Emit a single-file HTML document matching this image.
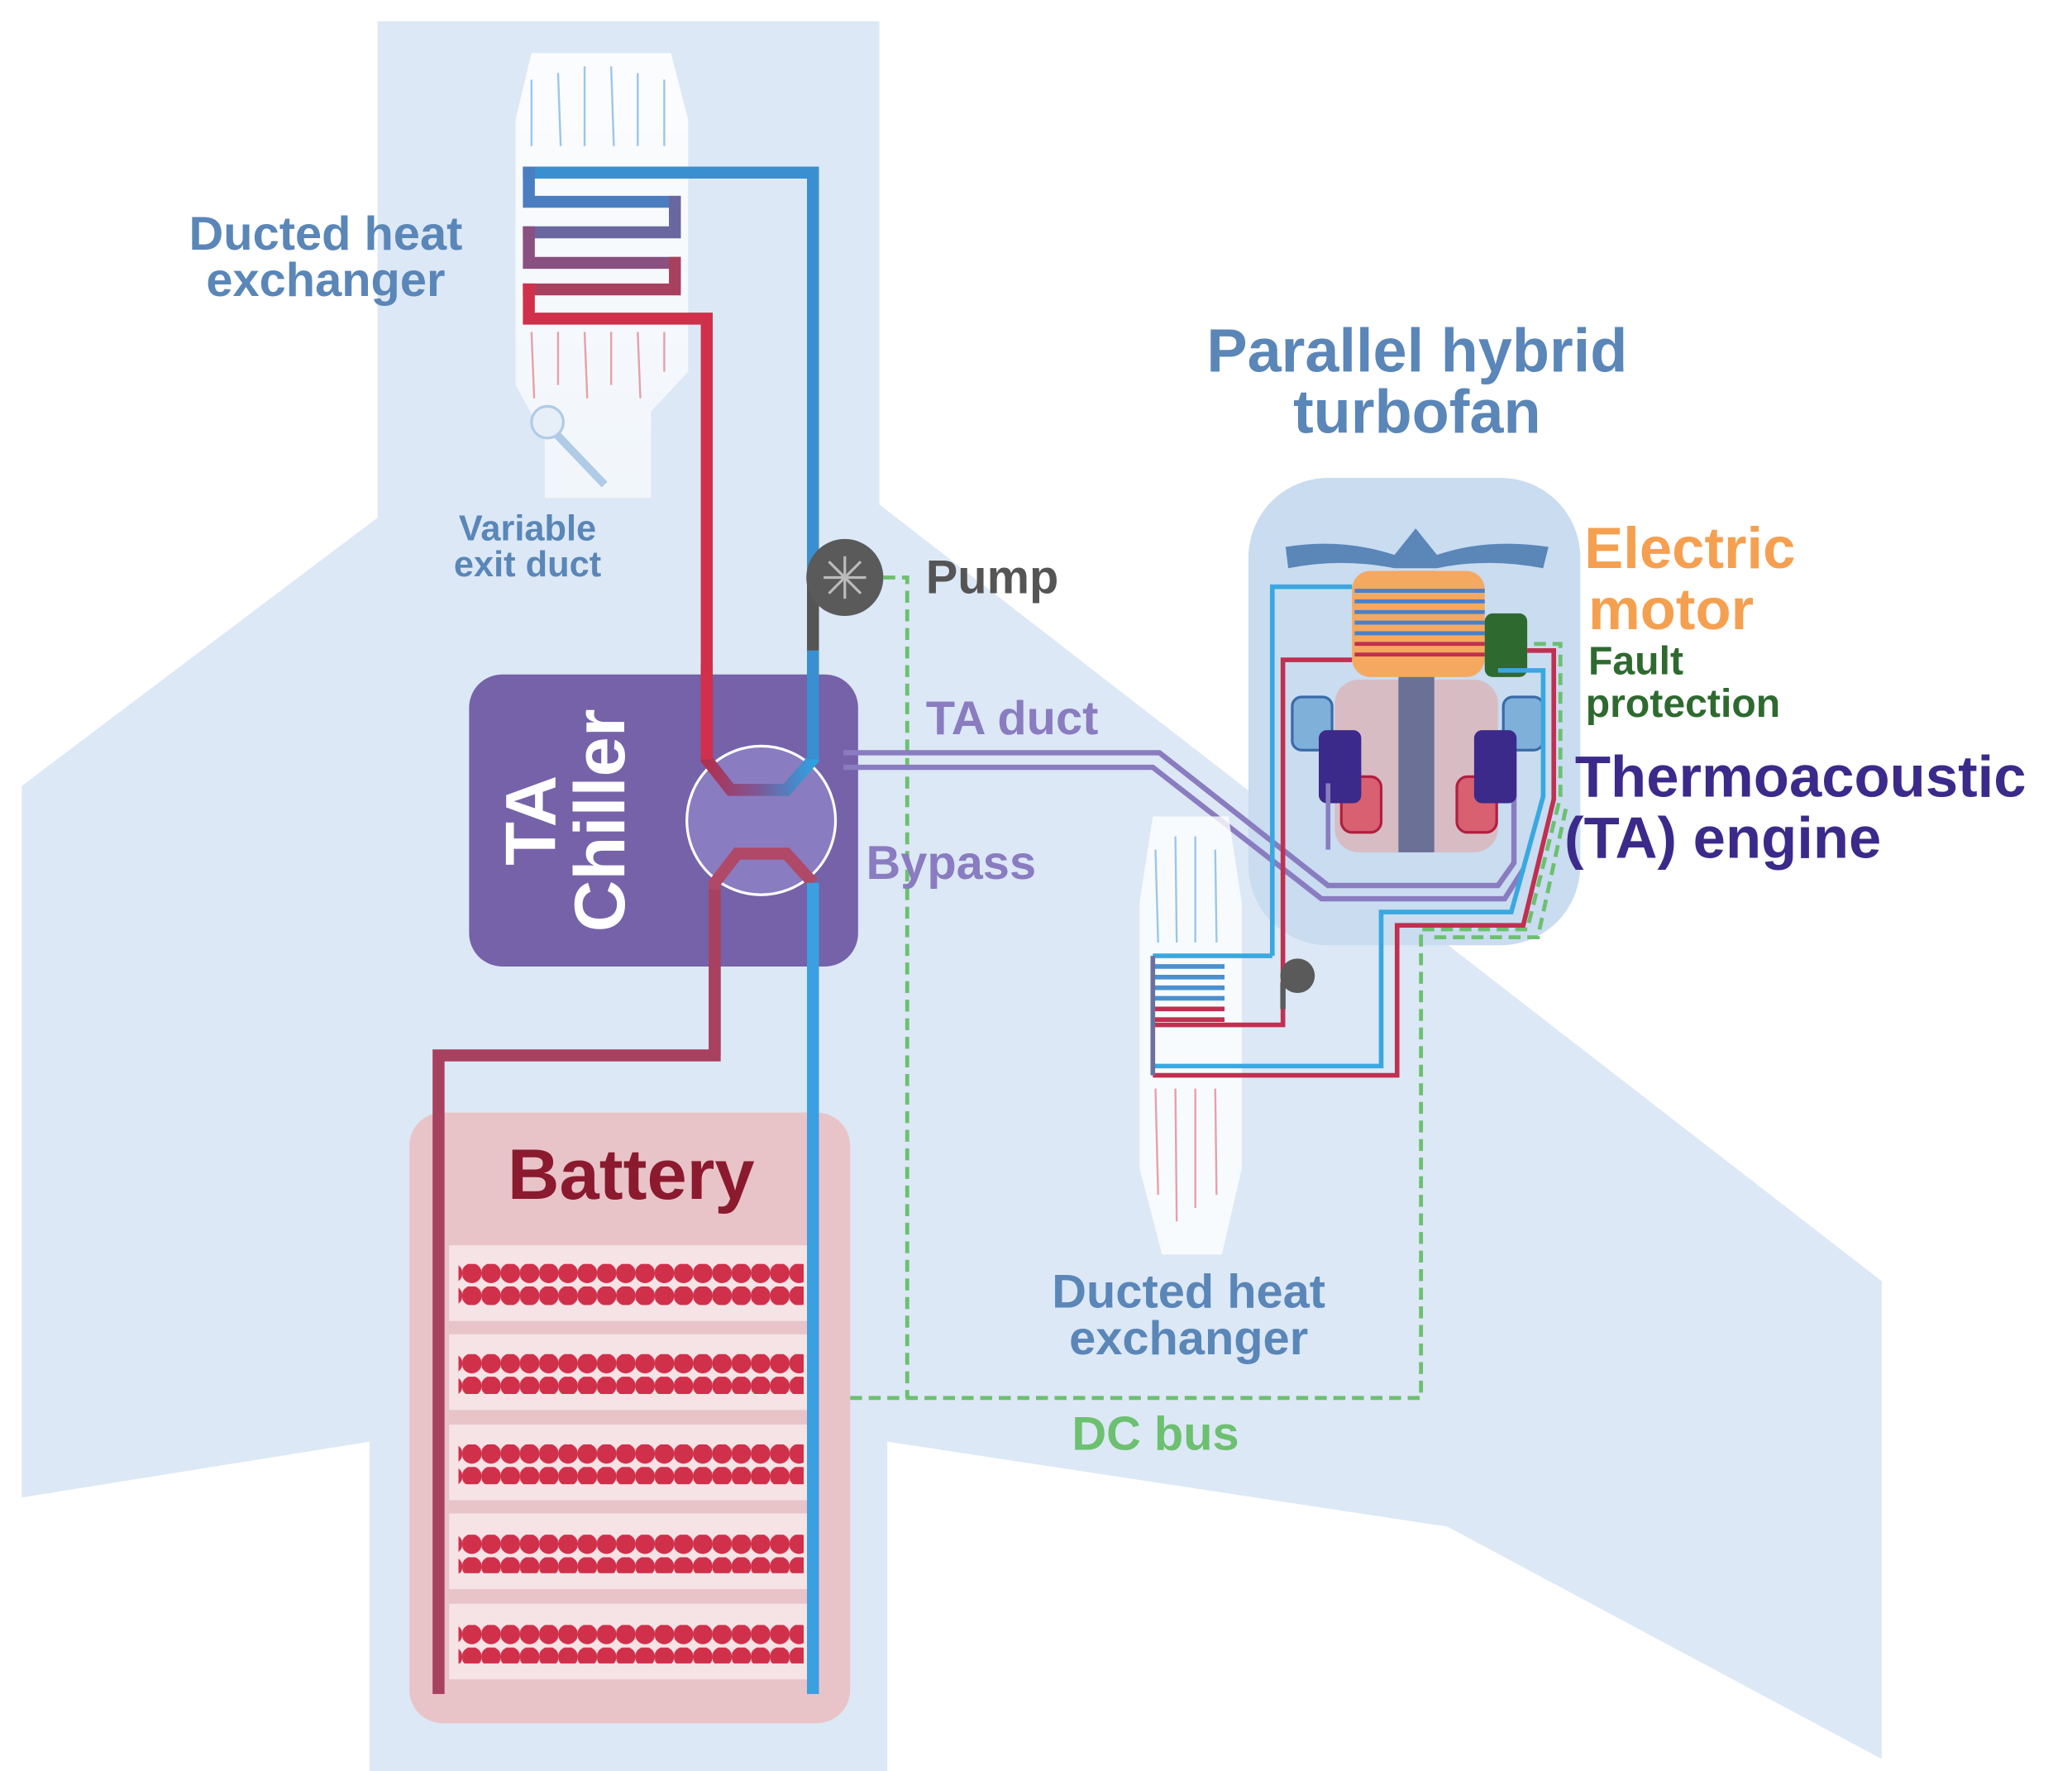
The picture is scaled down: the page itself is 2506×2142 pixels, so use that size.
<!DOCTYPE html>
<html><head><meta charset="utf-8"><style>
html,body{margin:0;padding:0;background:#fff}
svg{display:block}
text{font-family:"Liberation Sans",sans-serif;font-weight:bold}
</style></head><body>
<svg width="2506" height="2142" viewBox="0 0 1560 1334" xmlns="http://www.w3.org/2000/svg">
<defs>
<linearGradient id="rb" x1="0" x2="1"><stop offset="0" stop-color="#b03050"/><stop offset="0.5" stop-color="#7a5a9a"/><stop offset="1" stop-color="#2fa0e0"/></linearGradient>
<linearGradient id="duct" x1="0" y1="0" x2="0" y2="1"><stop offset="0" stop-color="#ffffff" stop-opacity="0.9"/><stop offset="1" stop-color="#ffffff" stop-opacity="0.6"/></linearGradient>
<pattern id="dots" width="14.5" height="17" patternUnits="userSpaceOnUse"><circle cx="7" cy="7" r="7.5" fill="#d0304a"/></pattern>
</defs>
<g fill="#dce8f5">
<rect x="284" y="16" width="378" height="1318"/>
<polygon points="284,390 16,592 16,1128 284,1085"/>
<polygon points="662,380 1417,965 1417,1325 1090,1150 662,1085"/>
<rect x="278" y="1080" width="390" height="254"/>
</g>
<rect x="940" y="360" width="250" height="352" rx="60" fill="#c9dcf0"/>
<polygon points="400,40 505,40 518,90 518,280 490,310 490,375 410,375 410,330 388,290 388,90" fill="url(#duct)"/>
<g stroke="#9cc6ea" stroke-width="1.5">
<line x1="400" y1="60" x2="400" y2="110"/><line x1="420" y1="55" x2="422" y2="110"/><line x1="440" y1="50" x2="440" y2="110"/><line x1="460" y1="50" x2="462" y2="110"/><line x1="480" y1="55" x2="480" y2="110"/><line x1="500" y1="60" x2="500" y2="110"/>
</g>
<g stroke="#e8a0a8" stroke-width="1.5">
<line x1="400" y1="250" x2="402" y2="300"/><line x1="420" y1="250" x2="420" y2="290"/><line x1="440" y1="250" x2="442" y2="300"/><line x1="460" y1="250" x2="460" y2="290"/><line x1="480" y1="250" x2="482" y2="300"/><line x1="500" y1="250" x2="500" y2="280"/>
</g>
<line x1="412" y1="320" x2="455" y2="365" stroke="#b0cbe6" stroke-width="6"/>
<circle cx="412" cy="318" r="12" fill="#e6eef8" stroke="#b0cbe6" stroke-width="2"/>
<!-- HX serpentine -->
<g fill="none" stroke-width="9" stroke-linecap="square">
<path d="M612,490 V130 H398" stroke="#3a8fd0"/>
<path d="M398,130 V152 H508" stroke="#4a7ec0"/>
<path d="M508,152 V175 H398" stroke="#6a66a0"/>
<path d="M398,175 V198 H508" stroke="#8a5080"/>
<path d="M508,198 V218 H398" stroke="#a84060"/>
<path d="M398,218 V240 H532 V565" stroke="#d0304a"/>
</g>
<path d="M612,440 V495" stroke="#555" stroke-width="9"/>
<circle cx="636" cy="435" r="29" fill="#5a5a5a"/>
<g stroke="#bbb" stroke-width="2"><line x1="620" y1="435" x2="652" y2="435"/><line x1="636" y1="419" x2="636" y2="451"/><line x1="624" y1="423" x2="648" y2="447"/><line x1="648" y1="423" x2="624" y2="447"/></g>
<g fill="none" stroke="#6cc070" stroke-width="3" stroke-dasharray="9,5">
<path d="M665,435 H683 V1053"/>
<path d="M640,1053 H1070 V700 H1150 L1175,600 V485 H1150"/>
<path d="M1080,706 H1158 L1180,605"/>
</g>
<rect x="353" y="508" width="293" height="220" rx="25" fill="#7562a8"/>
<text transform="translate(418,618) rotate(-90)" text-anchor="middle" fill="#fff" font-size="54">TA</text>
<text transform="translate(470,618) rotate(-90)" text-anchor="middle" fill="#fff" font-size="54">Chiller</text>
<circle cx="573" cy="618" r="56" fill="#8a7cc0" stroke="#fff" stroke-width="2"/>
<path d="M532,500 V572 L550,595 H592 L612,572 V490" fill="none" stroke="url(#rb)" stroke-width="9"/>
<path d="M532,500 V572" stroke="#d0304a" stroke-width="9"/>
<path d="M612,490 V572" stroke="#3a8fd0" stroke-width="9"/>
<path d="M538,795 V665 L555,643 H592 L612,665" fill="none" stroke="#b04868" stroke-width="9"/>
<g fill="none" stroke="#8a7cc0" stroke-width="4">
<path d="M635,567 H873 L1000,667 H1128 L1140,650 V540"/>
<path d="M635,578 H868 L995,677 H1133 L1147,655"/>
</g>
<rect x="308" y="838" width="332" height="460" rx="25" fill="#e8c4c9"/>
<text x="475" y="903" text-anchor="middle" fill="#8b1a2e" font-size="54">Battery</text>
<g>
<rect x="338" y="938" width="270" height="57" fill="#f5e3e6"/><rect x="345" y="952" width="260" height="31" fill="url(#dots)"/>
<rect x="338" y="1005" width="270" height="57" fill="#f5e3e6"/><rect x="345" y="1019" width="260" height="31" fill="url(#dots)"/>
<rect x="338" y="1073" width="270" height="57" fill="#f5e3e6"/><rect x="345" y="1087" width="260" height="31" fill="url(#dots)"/>
<rect x="338" y="1140" width="270" height="57" fill="#f5e3e6"/><rect x="345" y="1154" width="260" height="31" fill="url(#dots)"/>
<rect x="338" y="1208" width="270" height="57" fill="#f5e3e6"/><rect x="345" y="1222" width="260" height="31" fill="url(#dots)"/>
</g>
<g stroke="url(#rb)" stroke-width="9">
<line x1="330" y1="933" x2="615" y2="933"/><line x1="330" y1="1000" x2="615" y2="1000"/><line x1="330" y1="1068" x2="615" y2="1068"/><line x1="330" y1="1135" x2="615" y2="1135"/><line x1="330" y1="1203" x2="615" y2="1203"/><line x1="330" y1="1272" x2="615" y2="1272"/>
</g>
<path d="M538,670 V795 H330 V1276" fill="none" stroke="#a84060" stroke-width="9"/>
<path d="M612,665 V1276" stroke="#3aa0e0" stroke-width="9"/>
<path d="M968,412 Q1010,405 1050,418 L1066,398 L1082,418 Q1120,405 1166,412 L1162,428 Q1120,420 1082,428 L1050,428 Q1010,420 970,428 Z" fill="#5a86b8"/>
<rect x="1005" y="512" width="123" height="130" rx="18" fill="#d8bcc4"/>
<rect x="1053" y="430" width="27" height="212" fill="#6b7096"/>
<rect x="1018" y="430" width="100" height="80" rx="14" fill="#f5a860"/>
<g stroke="#4a80c8" stroke-width="3"><line x1="1020" y1="445" x2="1118" y2="445"/><line x1="1020" y1="453" x2="1118" y2="453"/><line x1="1020" y1="461" x2="1118" y2="461"/><line x1="1020" y1="469" x2="1118" y2="469"/><line x1="1020" y1="477" x2="1118" y2="477"/></g>
<g stroke="#c03050" stroke-width="3"><line x1="1020" y1="485" x2="1118" y2="485"/><line x1="1020" y1="493" x2="1118" y2="493"/></g>
<rect x="1118" y="462" width="32" height="48" rx="6" fill="#2e6a30"/>
<rect x="973" y="525" width="30" height="40" rx="7" fill="#7fb0da" stroke="#3a6aa8" stroke-width="2"/>
<rect x="1132" y="525" width="30" height="40" rx="7" fill="#7fb0da" stroke="#3a6aa8" stroke-width="2"/>
<rect x="1010" y="585" width="30" height="42" rx="8" fill="#d86070" stroke="#b02040" stroke-width="2"/>
<rect x="1097" y="585" width="30" height="42" rx="8" fill="#d86070" stroke="#b02040" stroke-width="2"/>
<rect x="993" y="550" width="32" height="55" rx="6" fill="#3b2a8a"/>
<rect x="1110" y="550" width="32" height="55" rx="6" fill="#3b2a8a"/>
<polygon points="868,615 925,615 935,680 935,880 920,945 875,945 858,880 858,680" fill="#ffffff" opacity="0.8"/>
<g stroke="#e8a0a8" stroke-width="1.5"><line x1="870" y1="820" x2="872" y2="900"/><line x1="885" y1="820" x2="886" y2="920"/><line x1="900" y1="820" x2="900" y2="910"/><line x1="915" y1="820" x2="916" y2="900"/></g>
<g stroke="#9cc6ea" stroke-width="1.5"><line x1="870" y1="640" x2="872" y2="710"/><line x1="885" y1="630" x2="886" y2="710"/><line x1="900" y1="630" x2="900" y2="710"/><line x1="915" y1="640" x2="916" y2="710"/></g>
<g fill="none" stroke-width="3.5">
<path d="M958,720 V442 H1018" stroke="#3aa8e0"/>
<path d="M868,720 H958" stroke="#3aa8e0"/>
<path d="M868,728 H922 M868,736 H922 M868,744 H922 M868,752 H922" stroke="#4a90d0"/>
<path d="M868,760 H922 M868,768 H922" stroke="#c03050"/>
<path d="M868,772 H966 V497 H1018" stroke="#c03050"/>
<path d="M868,803 H1040 V687 H1138 L1162,600 V505 H1128" stroke="#3aa8e0"/>
<path d="M868,810 H1052 V697 H1147 L1170,602 V490 H1150" stroke="#c03050"/>
<path d="M1000,640 V590" stroke="#8a7cc0"/>
<path d="M868,720 V810" stroke="#6b70a0"/>
</g>
<circle cx="977" cy="735" r="13" fill="#5a5a5a"/>
<path d="M966,740 V760" stroke="#5a5a5a" stroke-width="4"/>
<text x="245" y="188" text-anchor="middle" fill="#5a86b8" font-size="36">Ducted heat</text>
<text x="245" y="223" text-anchor="middle" fill="#5a86b8" font-size="36">exchanger</text>
<text x="397" y="407" text-anchor="middle" fill="#5a86b8" font-size="27">Variable</text>
<text x="397" y="434" text-anchor="middle" fill="#5a86b8" font-size="27">exit duct</text>
<text x="697" y="447" fill="#555" font-size="36">Pump</text>
<text x="697" y="553" fill="#8a7cc0" font-size="36">TA duct</text>
<text x="652" y="662" fill="#8a7cc0" font-size="36">Bypass</text>
<text x="1067" y="280" text-anchor="middle" fill="#5a86b8" font-size="46">Parallel hybrid</text>
<text x="1067" y="326" text-anchor="middle" fill="#5a86b8" font-size="46">turbofan</text>
<text x="1193" y="428" fill="#f5a050" font-size="44">Electric</text>
<text x="1196" y="474" fill="#f5a050" font-size="44">motor</text>
<text x="1196" y="508" fill="#2e6a30" font-size="30">Fault</text>
<text x="1194" y="540" fill="#2e6a30" font-size="30">protection</text>
<text x="1186" y="600" fill="#3b2a8a" font-size="44">Thermoacoustic</text>
<text x="1178" y="646" fill="#3b2a8a" font-size="44">(TA) engine</text>
<text x="895" y="985" text-anchor="middle" fill="#5a86b8" font-size="36">Ducted heat</text>
<text x="895" y="1020" text-anchor="middle" fill="#5a86b8" font-size="36">exchanger</text>
<text x="870" y="1092" text-anchor="middle" fill="#6cc070" font-size="36">DC bus</text>
</svg>
</body></html>
